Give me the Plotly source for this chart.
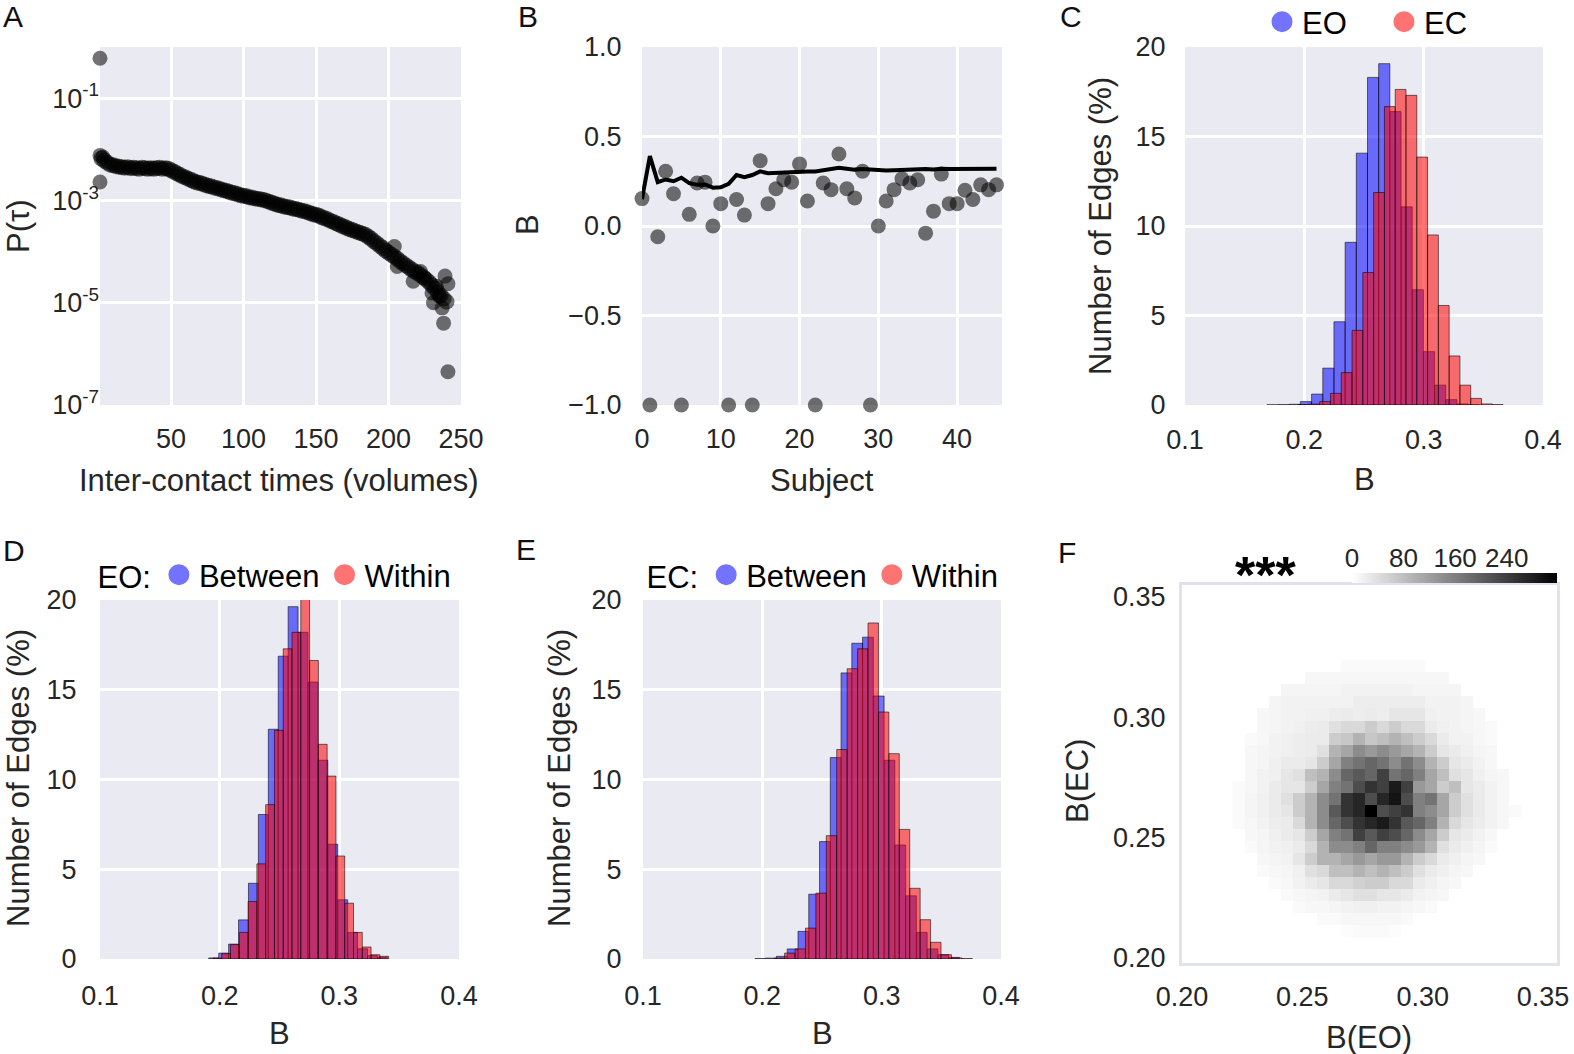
import numpy as np
import plotly.graph_objects as go

# ======================= DATA =======================
# --- Panel A: inter-contact time distribution (log10 P(tau)) ---
tau_volumes = list(range(2, 241, 2))
p_tau_log10 = [
    -2.18, -2.22, -2.26, -2.30, -2.31, -2.33, -2.34, -2.35, -2.36, -2.35,
    -2.37, -2.36, -2.37, -2.38, -2.36, -2.37, -2.38, -2.37, -2.38, -2.37,
    -2.36, -2.38, -2.37, -2.38, -2.41, -2.44, -2.47, -2.50, -2.53, -2.55,
    -2.58, -2.60, -2.63, -2.65, -2.66, -2.68, -2.70, -2.72, -2.73, -2.75,
    -2.76, -2.78, -2.80, -2.81, -2.83, -2.85, -2.86, -2.88, -2.90, -2.91,
    -2.92, -2.94, -2.95, -2.96, -2.97, -2.98, -2.99, -3.01, -3.03, -3.05,
    -3.07, -3.09, -3.10, -3.12, -3.13, -3.14, -3.16, -3.17, -3.18, -3.20,
    -3.21, -3.23, -3.25, -3.27, -3.28, -3.30, -3.33, -3.35, -3.37, -3.40,
    -3.42, -3.45, -3.47, -3.50, -3.52, -3.55, -3.57, -3.59, -3.61, -3.63,
    -3.65, -3.67, -3.71, -3.75, -3.80, -3.84, -3.89, -3.93, -3.98, -4.02,
    -4.06, -4.10, -4.14, -4.19, -4.23, -4.27, -4.31, -4.35, -4.39, -4.42,
    -4.46, -4.50, -4.55, -4.60, -4.66, -4.72, -4.80, -4.86, -4.92, -4.98,
]
tau_extra = [1, 1, 1, 3, 204, 206, 217, 222, 225, 230, 231, 233, 235, 237, 238, 239, 241, 241]
p_tau_extra_log10 = [-0.22, -2.64, -2.12, -2.15, -3.90, -4.29, -4.58, -4.39, -4.52,
                     -4.81, -5.00, -4.68, -4.87, -5.10, -5.40, -4.48, -4.63, -6.35]

# --- Panel B: burstiness per subject and running value ---
subjects = list(range(46))
b_subject = [0.153, -1.0, -0.06, 0.306, 0.18, -1.0, 0.065, 0.24, 0.245, 0.0,
             0.125, -1.0, 0.148, 0.061, -1.0, 0.365, 0.125, 0.208, 0.258, 0.245,
             0.347, 0.14, -1.0, 0.24, 0.203, 0.402, 0.208, 0.157, 0.306, -1.0,
             0.0, 0.14, 0.203, 0.264, 0.24, 0.258, -0.04, 0.083, 0.29, 0.125,
             0.125, 0.2, 0.148, 0.23, 0.203, 0.23]
b_running = [0.15, 0.39, 0.245, 0.26, 0.25, 0.27, 0.24, 0.23, 0.232, 0.214,
             0.216, 0.236, 0.285, 0.273, 0.285, 0.305, 0.295, 0.298, 0.30, 0.302,
             0.306, 0.305, 0.305, 0.31, 0.315, 0.325, 0.32, 0.315, 0.318, 0.315,
             0.314, 0.31, 0.312, 0.314, 0.316, 0.32, 0.318, 0.316, 0.32, 0.318,
             0.318, 0.317, 0.318, 0.318, 0.32, 0.32]

# --- Panel C: EO vs EC histograms (% of edges) ---
c_eo_start, c_eo_width = 0.1686, 0.00937
c_eo_pct = [0.01, 0.02, 0.04, 0.19, 0.61, 2.06, 4.65, 9.09, 14.07, 18.3,
            19.07, 16.39, 11.07, 6.44, 2.98, 1.11, 0.3, 0.06, 0.01]
c_ec_start, c_ec_width = 0.1948, 0.00904
c_ec_pct = [0.02, 0.05, 0.19, 0.65, 1.81, 4.17, 7.4, 11.87, 16.67, 17.63,
            17.3, 13.85, 9.5, 5.56, 2.74, 1.11, 0.37, 0.06, 0.02]

# --- Panel D: EO between / within ---
d_btw_start, d_btw_width = 0.1909, 0.00829
d_btw_pct = [0.06, 0.33, 0.83, 2.18, 4.22, 8.05, 12.8, 16.87, 19.63, 18.2,
             15.43, 11.07, 6.39, 3.3, 1.48, 0.57, 0.19, 0.1]
d_win_start, d_win_width = 0.1944, 0.00734
d_win_pct = [0.05, 0.3, 0.8, 1.48, 3.2, 5.3, 8.6, 12.74, 17.28, 18.2,
             20.06, 16.63, 11.96, 10.19, 5.74, 3.11, 1.48, 0.67, 0.24, 0.15]

# --- Panel E: EC between / within ---
e_btw_start, e_btw_width = 0.1938, 0.00902
e_btw_pct = [0.02, 0.05, 0.15, 0.56, 1.54, 3.61, 6.54, 11.22, 15.94, 17.59,
             17.93, 14.65, 11.07, 6.35, 3.52, 1.48, 0.56, 0.24, 0.09]
e_win_start, e_win_width = 0.2099, 0.00874
e_win_pct = [0.05, 0.33, 0.56, 1.72, 3.67, 6.87, 11.67, 16.17, 17.28, 18.72,
             13.76, 11.44, 7.22, 3.94, 2.19, 0.93, 0.24, 0.06, 0.02]

# --- Panel F: 2D histogram B(EO) vs B(EC) ---
hm_x = [0.2235, 0.2285, 0.2335, 0.2385, 0.2435, 0.2485, 0.2535, 0.2585, 0.2635,
        0.2685, 0.2735, 0.2785, 0.2835, 0.2885, 0.2935, 0.2985, 0.3035, 0.3085,
        0.3135, 0.3185, 0.3235, 0.3285, 0.3335, 0.3385, 0.3435]
hm_y = [0.3212, 0.3162, 0.3112, 0.3062, 0.3012, 0.2962, 0.2912, 0.2862, 0.2812,
        0.2762, 0.2712, 0.2662, 0.2612, 0.2562, 0.2512, 0.2462, 0.2412, 0.2362,
        0.2312, 0.2262, 0.2212, 0.2162, 0.2112]
# grey level, in % of the colour-bar maximum
hm_shade = [
    [0, 0, 0, 0, 0, 0, 0, 0, 0, 2, 2, 2, 2, 2, 2, 2, 0, 0, 0, 0, 0, 0, 0, 0, 0],
    [0, 0, 0, 0, 0, 0, 3, 3, 3, 3, 3, 3, 3, 3, 3, 3, 3, 3, 0, 0, 0, 0, 0, 0, 0],
    [0, 0, 0, 0, 4, 4, 4, 4, 4, 5, 5, 5, 5, 5, 5, 4, 4, 4, 4, 0, 0, 0, 0, 0, 0],
    [0, 0, 0, 4, 5, 5, 5, 5, 5, 5, 7, 7, 7, 7, 7, 7, 5, 5, 5, 4, 0, 0, 0, 0, 0],
    [0, 0, 3, 4, 5, 5, 6, 6, 7, 8, 7, 8, 7, 10, 10, 10, 6, 5, 5, 4, 3, 0, 0, 0, 0],
    [0, 0, 3, 4, 5, 6, 7, 8, 12, 15, 15, 20, 15, 20, 15, 15, 8, 6, 5, 4, 3, 2, 0, 0, 0],
    [0, 2, 3, 5, 6, 7, 8, 8, 20, 22, 30, 22, 25, 30, 25, 20, 15, 8, 5, 5, 3, 2, 0, 0, 0],
    [0, 3, 4, 5, 6, 7, 8, 12, 30, 35, 45, 40, 45, 40, 35, 30, 20, 10, 8, 6, 4, 3, 0, 0, 0],
    [0, 3, 4, 6, 8, 8, 10, 20, 35, 50, 55, 60, 55, 45, 55, 45, 30, 20, 10, 8, 5, 3, 0, 0, 0],
    [0, 3, 5, 6, 10, 12, 25, 30, 45, 60, 65, 60, 75, 55, 60, 50, 35, 25, 12, 10, 6, 4, 3, 0, 0],
    [2, 3, 5, 8, 10, 10, 20, 35, 50, 55, 70, 80, 75, 90, 75, 40, 35, 20, 25, 10, 8, 5, 3, 0, 0],
    [2, 4, 6, 8, 12, 20, 30, 45, 55, 80, 85, 70, 85, 92, 70, 50, 55, 35, 20, 12, 8, 5, 3, 0, 0],
    [2, 4, 6, 8, 10, 20, 30, 45, 65, 80, 85, 100, 70, 75, 80, 50, 45, 35, 20, 12, 8, 5, 3, 2, 0],
    [2, 3, 5, 7, 8, 15, 30, 45, 60, 70, 80, 85, 90, 80, 65, 60, 50, 30, 15, 10, 7, 5, 3, 0, 0],
    [0, 3, 4, 6, 8, 10, 20, 35, 50, 55, 75, 65, 75, 70, 60, 45, 35, 20, 10, 8, 5, 3, 0, 0, 0],
    [0, 2, 4, 5, 6, 8, 15, 30, 45, 45, 50, 60, 50, 50, 45, 40, 30, 12, 8, 6, 4, 2, 0, 0, 0],
    [0, 0, 3, 4, 5, 10, 20, 30, 30, 35, 40, 35, 40, 40, 30, 20, 15, 8, 6, 4, 3, 0, 0, 0, 0],
    [0, 0, 2, 3, 4, 6, 12, 15, 25, 25, 30, 25, 30, 25, 20, 12, 8, 6, 4, 3, 0, 0, 0, 0, 0],
    [0, 0, 0, 2, 3, 5, 8, 10, 15, 15, 18, 20, 20, 15, 15, 8, 6, 4, 3, 0, 0, 0, 0, 0, 0],
    [0, 0, 0, 0, 2, 3, 4, 5, 8, 10, 12, 12, 10, 10, 8, 5, 4, 3, 0, 0, 0, 0, 0, 0, 0],
    [0, 0, 0, 0, 0, 2, 3, 3, 4, 5, 6, 6, 5, 5, 4, 3, 2, 0, 0, 0, 0, 0, 0, 0, 0],
    [0, 0, 0, 0, 0, 0, 0, 2, 2, 3, 3, 3, 3, 3, 2, 0, 0, 0, 0, 0, 0, 0, 0, 0, 0],
    [0, 0, 0, 0, 0, 0, 0, 0, 0, 1, 2, 2, 2, 1, 0, 0, 0, 0, 0, 0, 0, 0, 0, 0, 0],
]
hm_count_max = 318
cbar_ticks = [0, 80, 160, 240]

# ======================= STYLE =======================
W, H = 1574, 1054
FONT = "Liberation Sans, Arial, Helvetica, sans-serif"
TXT = "#262626"
BG = "#EAEAF2"
BLUE = "rgba(0,0,255,0.55)"
RED = "rgba(255,0,0,0.55)"
BLUE_KEY = "rgb(115,115,255)"
RED_KEY = "rgb(255,115,115)"
EDGE = "rgba(0,0,0,0.55)"
DOT = "rgba(0,0,0,0.55)"
TICK = 27
TITLE = 31


def dx(l, r):
    return [l / W, r / W]


def dy(t, b):
    return [1 - b / H, 1 - t / H]


def ax(dom, anchor, **kw):
    d = dict(domain=dom, anchor=anchor, showgrid=True, gridcolor="white", gridwidth=2.5,
             zeroline=False, showline=False, ticks="outside", tickcolor="rgba(0,0,0,0)",
             tickfont=dict(family=FONT, size=TICK, color=TXT), fixedrange=True,
             automargin=False)
    d.update(kw)
    return d


def centers(start, width, n):
    return [start + width * (i + 0.5) for i in range(n)]


fig = go.Figure()

# ---- A ----
fig.add_trace(go.Scatter(x=tau_volumes, y=[10 ** v for v in p_tau_log10], mode="markers",
                         marker=dict(color=DOT, size=16, line=dict(width=0)),
                         cliponaxis=False, showlegend=False, xaxis="x", yaxis="y"))
fig.add_trace(go.Scatter(x=tau_extra, y=[10 ** v for v in p_tau_extra_log10], mode="markers",
                         marker=dict(color=DOT, size=15, line=dict(width=0)),
                         cliponaxis=False, showlegend=False, xaxis="x", yaxis="y"))

# ---- B ----
fig.add_trace(go.Scatter(x=subjects, y=b_subject, mode="markers",
                         marker=dict(color=DOT, size=15, line=dict(width=0)),
                         cliponaxis=False, showlegend=False, xaxis="x2", yaxis="y2"))
fig.add_trace(go.Scatter(x=subjects, y=b_running, mode="lines",
                         line=dict(color="black", width=4),
                         cliponaxis=False, showlegend=False, xaxis="x2", yaxis="y2"))


def hist(start, width, pct, color, xa, ya):
    fig.add_trace(go.Bar(x=centers(start, width, len(pct)), y=pct, width=width,
                         marker=dict(color=color, line=dict(color=EDGE, width=1)),
                         showlegend=False, xaxis=xa, yaxis=ya))


def legend_dot(name, color, legend):
    fig.add_trace(go.Scatter(x=[None], y=[None], mode="markers", name=name,
                             marker=dict(color=color, size=16, line=dict(color=color, width=5)),
                             legend=legend, showlegend=True, xaxis="x3", yaxis="y3"))


hist(c_eo_start, c_eo_width, c_eo_pct, BLUE, "x3", "y3")
hist(c_ec_start, c_ec_width, c_ec_pct, RED, "x3", "y3")
hist(d_btw_start, d_btw_width, d_btw_pct, BLUE, "x4", "y4")
hist(d_win_start, d_win_width, d_win_pct, RED, "x4", "y4")
hist(e_btw_start, e_btw_width, e_btw_pct, BLUE, "x5", "y5")
hist(e_win_start, e_win_width, e_win_pct, RED, "x5", "y5")

legend_dot("EO", BLUE_KEY, "legend")
legend_dot("EC", RED_KEY, "legend")
legend_dot("Between", BLUE_KEY, "legend2")
legend_dot("Within", RED_KEY, "legend2")
legend_dot("Between", BLUE_KEY, "legend3")
legend_dot("Within", RED_KEY, "legend3")

# ---- F ----
GREYS = [[0, "#ffffff"], [1, "#000000"]]
hm_counts = [[v * hm_count_max / 100 for v in row] for row in hm_shade]
fig.add_trace(go.Heatmap(x=hm_x, y=hm_y, z=hm_counts, colorscale=GREYS, zmin=0,
                         zmax=hm_count_max, showscale=False, xaxis="x6", yaxis="y6"))
cb_vals = np.linspace(0, hm_count_max, 200)
fig.add_trace(go.Heatmap(x=cb_vals, y=[0], z=[cb_vals], colorscale=GREYS, zmin=0,
                         zmax=hm_count_max, showscale=False, xaxis="x7", yaxis="y7"))

hist_x = dict(range=[0.1, 0.4], tickvals=[0.1, 0.2, 0.3, 0.4],
              ticktext=["0.1", "0.2", "0.3", "0.4"])
hist_y = dict(range=[0, 20], tickvals=[0, 5, 10, 15, 20])

frame = dict(showgrid=False, showline=True, linecolor="#E2E2EC", linewidth=3, mirror=True)

leg_font = dict(family=FONT, size=TITLE, color="black")
layout = dict(
    width=W, height=H, margin=dict(l=0, r=0, t=0, b=0, pad=0, autoexpand=False),
    paper_bgcolor="white", plot_bgcolor=BG, barmode="overlay", hovermode=False,
    font=dict(family=FONT, color=TXT),
    xaxis=ax(dx(100, 461), "y", range=[1, 250], tickvals=[50, 100, 150, 200, 250], ticklen=10),
    yaxis=ax(dy(47, 405), "x", type="log", range=[-7, 0],
             tickvals=[1e-1, 1e-3, 1e-5, 1e-7],
             ticktext=["10<sup>-1</sup>", "10<sup>-3</sup>", "10<sup>-5</sup>", "10<sup>-7</sup>"],
             ticks=""),
    xaxis2=ax(dx(642, 1002), "y2", range=[0, 45.7], tickvals=[0, 10, 20, 30, 40], ticklen=10),
    yaxis2=ax(dy(47, 405), "x2", range=[-1, 1], tickvals=[-1, -0.5, 0, 0.5, 1],
              ticktext=["\u22121.0", "\u22120.5", "0.0", "0.5", "1.0"], ticklen=14),
    xaxis3=ax(dx(1185, 1543), "y3", ticklen=11, **hist_x),
    yaxis3=ax(dy(47, 405), "x3", ticklen=13, **hist_y),
    xaxis4=ax(dx(100, 459), "y4", ticklen=13, **hist_x),
    yaxis4=ax(dy(600, 959), "x4", ticklen=17, **hist_y),
    xaxis5=ax(dx(643, 1001), "y5", ticklen=13, **hist_x),
    yaxis5=ax(dy(600, 959), "x5", ticklen=15, **hist_y),
    xaxis6=ax(dx(1182, 1557), "y6", range=[0.2, 0.3558], tickvals=[0.2, 0.25, 0.3, 0.35],
              ticktext=["0.20", "0.25", "0.30", "0.35"], ticklen=8, **frame),
    yaxis6=ax(dy(585, 963), "x6", range=[0.1979, 0.355], tickvals=[0.2, 0.25, 0.3, 0.35],
              ticktext=["0.20", "0.25", "0.30", "0.35"], ticklen=8, **frame),
    xaxis7=ax(dx(1352, 1557), "y7", range=[0, hm_count_max], side="top", tickvals=cbar_ticks,
              ticks="", ticklabelstandoff=0, showgrid=False,
              tickfont=dict(family=FONT, size=26, color=TXT)),
    yaxis7=dict(domain=dy(573, 583), anchor="x7", visible=False, range=[-0.5, 0.5], fixedrange=True),
    legend=dict(x=1384 / W, y=1 - 22 / H, xanchor="center", yanchor="middle", orientation="h",
                font=leg_font, bgcolor="rgba(0,0,0,0)", entrywidth=77, entrywidthmode="pixels"),
    legend2=dict(x=276 / W, y=1 - 575 / H, xanchor="center", yanchor="middle", orientation="h",
                 font=leg_font, bgcolor="rgba(0,0,0,0)",
                 title=dict(text="EO:", side="left", font=leg_font)),
    legend3=dict(x=824 / W, y=1 - 575 / H, xanchor="center", yanchor="middle", orientation="h",
                 font=leg_font, bgcolor="rgba(0,0,0,0)",
                 title=dict(text="EC:", side="left", font=leg_font)),
    shapes=[dict(type="rect", xref="x6 domain", yref="y6 domain", x0=0, x1=1, y0=0, y1=1,
                 fillcolor="white", line=dict(width=0), layer="below")],
)

annotations = []


def label(text, x, y, size=TITLE, angle=0, color=TXT, **kw):
    annotations.append(dict(text=text, x=x / W, y=1 - y / H, xref="paper", yref="paper",
                            showarrow=False, xanchor="center", yanchor="middle", textangle=angle,
                            font=dict(family=FONT, size=size, color=color), **kw))


for t, x, y in [("A", 13, 17), ("B", 528, 17), ("C", 1071, 17),
                ("D", 14, 550), ("E", 526, 549), ("F", 1067, 552)]:
    label(t, x, y, size=30, color="#111111")

label("Inter-contact times (volumes)", 279, 481)
label("Subject", 822, 481)
label("B", 1364, 480)
label("B", 279, 1033)
label("B", 822, 1033)
label("B(EO)", 1369, 1037)
label("P(\u03c4)", 19, 226, angle=-90)
label("B", 527, 225, angle=-90)
label("Number of Edges (%)", 1101, 226, angle=-90)
label("Number of Edges (%)", 18, 778, angle=-90)
label("Number of Edges (%)", 559, 778, angle=-90)
label("B(EC)", 1077, 781, angle=-90)
label("<b>***</b>", 1265, 575, size=52, color="black")

layout["annotations"] = annotations
fig.update_layout(**layout)

fig.write_html("out.html", config={"displayModeBar": False},
               post_script="document.body.style.margin='0';document.body.style.overflow='hidden';")
